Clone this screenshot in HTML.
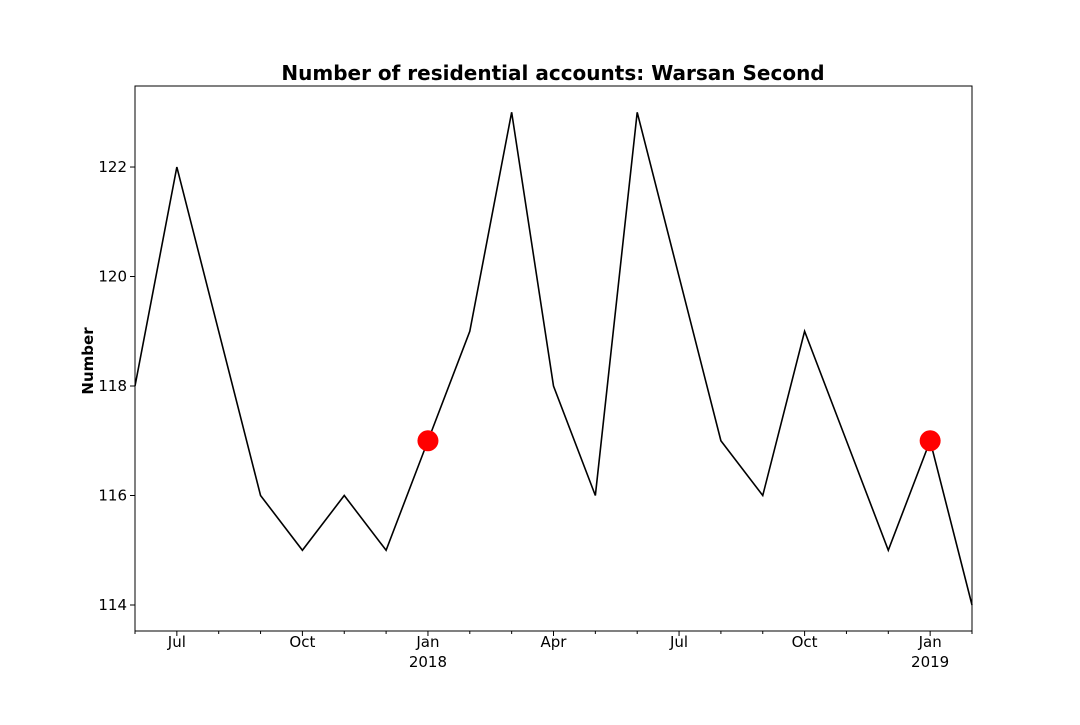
<!DOCTYPE html>
<html><head><meta charset="utf-8"><style>
body{margin:0;background:#fff}
svg text{font-family:"DejaVu Sans","Liberation Sans",sans-serif}
</style></head><body>
<svg id="c" width="1080" height="720">
<text x="553" y="80" text-anchor="middle" font-size="20" font-weight="bold">Number of residential accounts: Warsan Second</text>
<text transform="translate(93,361) rotate(-90)" text-anchor="middle" font-size="15" font-weight="bold">Number</text>
<g id="g"></g>
</svg>
<script>
const months=["2017-06","2017-07","2017-08","2017-09","2017-10","2017-11","2017-12","2018-01","2018-02","2018-03","2018-04","2018-05","2018-06","2018-07","2018-08","2018-09","2018-10","2018-11","2018-12","2019-01","2019-02"];
const values=[118,122,119,116,115,116,115,117,119,123,118,116,123,120,117,116,119,117,115,117,114];
const highlightIdx=[7,19];
const yTicks=[114,116,118,120,122];
const xTickIdx=[1,4,7,10,13,16,19];
const xTickLabels=["Jul","Oct","Jan\n2018","Apr","Jul","Oct","Jan\n2019"];
const L=135,R=972,T=86,B=631,yMin=113.525,yMax=123.48;
const x=i=>L+(R-L)*i/(months.length-1);
const y=v=>B-(v-yMin)/(yMax-yMin)*(B-T);
const g=document.getElementById('g');const NS="http://www.w3.org/2000/svg";
function el(t,a){const e=document.createElementNS(NS,t);for(const k in a)e.setAttribute(k,a[k]);g.appendChild(e);return e;}
for(let i=0;i<months.length;i++){const t=el('line',{x1:x(i),x2:x(i),y1:B,y2:B+(xTickIdx.includes(i)?5:3),stroke:'#000'});

}
xTickIdx.forEach((i,k)=>{const parts=xTickLabels[k].split("\n");parts.forEach((p,j)=>{const t=el('text',{x:x(i),y:B+16+j*20,'text-anchor':'middle','font-size':'15'});t.textContent=p;

});});
yTicks.forEach(v=>{const l=el('line',{x1:L-5,x2:L,y1:y(v),y2:y(v),stroke:'#000'});


const t=el('text',{x:L-8,y:y(v)+5,'text-anchor':'end','font-size':'15'});t.textContent=v;

});
const p=el('polyline',{points:values.map((v,i)=>x(i)+','+y(v)).join(' '),fill:'none',stroke:'#000','stroke-width':1.6});


highlightIdx.forEach(i=>{const c=el('circle',{cx:x(i),cy:y(values[i]),r:10.5,fill:'#ff0000'});

});
const f=el('rect',{x:L,y:T,width:R-L,height:B-T,fill:'none',stroke:'#000','stroke-width':1});


</script>
</body></html>
